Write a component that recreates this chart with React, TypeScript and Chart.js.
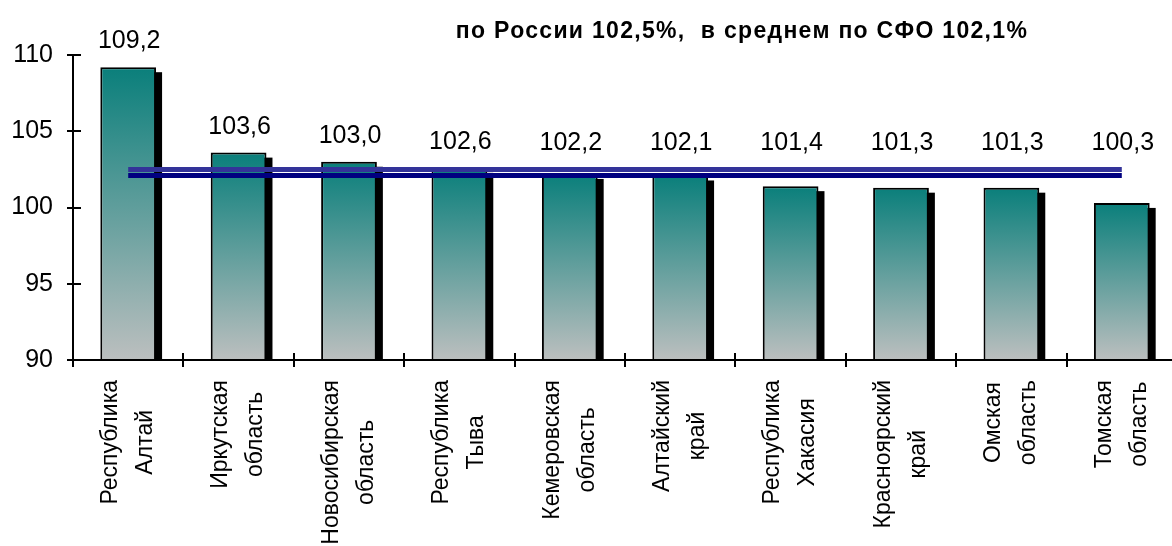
import React, { useEffect, useRef } from 'react';
import { Chart, registerables } from 'chart.js';

Chart.register(...registerables);

const categories: string[][] = [
  ['Республика', 'Алтай'],
  ['Иркутская', 'область'],
  ['Новосибирская', 'область'],
  ['Республика', 'Тыва'],
  ['Кемеровская', 'область'],
  ['Алтайский', 'край'],
  ['Республика', 'Хакасия'],
  ['Красноярский', 'край'],
  ['Омская', 'область'],
  ['Томская', 'область'],
];
const values = [109.2, 103.6, 103.0, 102.6, 102.2, 102.1, 101.4, 101.3, 101.3, 100.3];
const russiaLevel = [102.5, 102.5, 102.5, 102.5, 102.5, 102.5, 102.5, 102.5, 102.5, 102.5];
const sfoLevel = [102.1, 102.1, 102.1, 102.1, 102.1, 102.1, 102.1, 102.1, 102.1, 102.1];
const yMin = 90;
const yMax = 110;
const yStep = 5;
const titleText = 'по России 102,5%,  в среднем по СФО 102,1%';

const FONT = "'Liberation Sans', Arial, sans-serif";
const TEAL = '#0a7f7b';
const GRAY = '#bcbfbf';
const BAR_DS = 2;

const fmt = (v: number) => v.toFixed(1).replace('.', ',');

const barFill = (ctx: any) => {
  if (ctx.type !== 'data') return TEAL;
  const chart = ctx.chart;
  const ys = chart.scales && chart.scales.y;
  if (!chart.chartArea || !ys) return TEAL;
  const top = ys.getPixelForValue(ctx.raw);
  const bottom = ys.getPixelForValue(ys.min);
  if (!isFinite(top) || !isFinite(bottom) || bottom <= top) return TEAL;
  const g = chart.ctx.createLinearGradient(0, top, 0, bottom);
  g.addColorStop(0, TEAL);
  g.addColorStop(1, GRAY);
  return g;
};

const shadowPlugin = {
  id: 'barShadow',
  beforeDatasetsDraw(chart: any) {
    const { ctx, chartArea } = chart;
    const meta = chart.getDatasetMeta(BAR_DS);
    ctx.save();
    ctx.beginPath();
    ctx.rect(chartArea.left, chartArea.top - 40, chartArea.right - chartArea.left + 20, chartArea.bottom - chartArea.top + 40);
    ctx.clip();
    ctx.fillStyle = '#000';
    meta.data.forEach((bar: any) => {
      const { x, y, base, width } = bar.getProps(['x', 'y', 'base', 'width'], true);
      ctx.fillRect(x - width / 2 + 6, y + 5, width, base - y - 5);
    });
    ctx.restore();
  },
};

const decorPlugin = {
  id: 'decor',
  afterDraw(chart: any) {
    const { ctx, chartArea } = chart;
    const xs = chart.scales.x;
    const ys = chart.scales.y;
    ctx.save();
    // inner halves of cross ticks
    ctx.strokeStyle = '#000';
    ctx.lineWidth = 2;
    ys.ticks.forEach((_t: any, i: number) => {
      const py = Math.round(ys.getPixelForTick(i));
      ctx.beginPath();
      ctx.moveTo(chartArea.left, py);
      ctx.lineTo(chartArea.left + 8, py);
      ctx.stroke();
    });
    const n = categories.length;
    const cw = (xs.right - xs.left) / n;
    for (let i = 0; i <= n; i++) {
      const px = Math.round(xs.getPixelForValue(Math.min(i, n - 1)) + (i < n ? -cw / 2 : cw / 2));
      ctx.beginPath();
      ctx.moveTo(px, chartArea.bottom);
      ctx.lineTo(px, chartArea.bottom - 7);
      ctx.stroke();
    }

    // value labels (kept above the average lines)
    ctx.fillStyle = '#000';
    ctx.font = `25px ${FONT}`;
    ctx.textAlign = 'center';
    ctx.textBaseline = 'alphabetic';
    const lineTop = ys.getPixelForValue(Math.max(russiaLevel[0], sfoLevel[0]));
    const meta = chart.getDatasetMeta(BAR_DS);
    meta.data.forEach((bar: any, i: number) => {
      const { x, y } = bar.getProps(['x', 'y'], true);
      const ly = Math.min(y, lineTop) - 19;
      ctx.fillText(fmt(values[i]), x + 1, ly);
    });

    // category labels (rotated, lines centered)
    ctx.font = `23px ${FONT}`;
    ctx.textBaseline = 'middle';
    ctx.textAlign = 'center';
    categories.forEach((lines, i) => {
      const cx = xs.getPixelForValue(i);
      const maxW = Math.max(...lines.map((l) => ctx.measureText(l).width));
      const cy = chartArea.bottom + 20 + maxW / 2;
      lines.forEach((line, j) => {
        const lx = cx + (j - (lines.length - 1) / 2) * 35;
        ctx.save();
        ctx.translate(lx, cy);
        ctx.rotate(-Math.PI / 2);
        ctx.fillText(line, 0, 0);
        ctx.restore();
      });
    });

    // title
    ctx.font = `bold 23px ${FONT}`;
    (ctx as any).letterSpacing = '1.3px';
    ctx.textAlign = 'center';
    ctx.textBaseline = 'alphabetic';
    ctx.fillText(titleText, 742, 38);
    (ctx as any).letterSpacing = '0px';
    ctx.restore();
  },
};

export default function App() {
  const ref = useRef<HTMLCanvasElement | null>(null);
  useEffect(() => {
    if (!ref.current) return;
    const chart = new Chart(ref.current, {
      type: 'bar',
      data: {
        labels: categories.map((c) => c.join(' ')),
        datasets: [
          {
            type: 'line',
            label: 'Россия',
            data: russiaLevel,
            borderColor: '#333399',
            borderWidth: 5,
            pointRadius: 0,
            fill: false,
            tension: 0,
            order: 0,
          } as any,
          {
            type: 'line',
            label: 'СФО',
            data: sfoLevel,
            borderColor: '#000080',
            borderWidth: 5,
            pointRadius: 0,
            fill: false,
            tension: 0,
            order: 1,
          } as any,
          {
            type: 'bar',
            label: 'Индекс',
            data: values,
            backgroundColor: barFill,
            borderColor: '#000',
            borderWidth: 2,
            borderSkipped: 'bottom',
            categoryPercentage: 1,
            barPercentage: 0.505,
            order: 5,
          } as any,
        ],
      },
      options: {
        animation: false,
        responsive: false,
        devicePixelRatio: 1,
        layout: { padding: { top: 55, right: 13, left: 0, bottom: 0 } },
        plugins: {
          legend: { display: false },
          tooltip: { enabled: false },
          title: { display: false },
        },
        scales: {
          x: {
            offset: true,
            afterFit: (s: any) => {
              s.height = 186;
            },
            grid: {
              offset: true,
              drawOnChartArea: false,
              drawTicks: true,
              tickLength: 7,
              color: '#000',
              lineWidth: 2,
            },
            border: { display: true, color: '#000', width: 2, z: 1 },
            ticks: { display: false },
          },
          y: {
            min: yMin,
            max: yMax,
            afterFit: (s: any) => {
              s.width = 73;
            },
            grid: {
              drawOnChartArea: false,
              drawTicks: true,
              tickLength: 6,
              color: '#000',
              lineWidth: 2,
            },
            border: { display: true, color: '#000', width: 2, z: 1 },
            ticks: {
              stepSize: yStep,
              padding: 14,
              color: '#000',
              font: { family: FONT, size: 25 },
              callback: (v: any) => String(v),
            },
          },
        },
      } as any,
      plugins: [shadowPlugin, decorPlugin],
    });
    return () => chart.destroy();
  }, []);
  return (
    <div
      style={{
        position: 'fixed',
        left: 0,
        top: 0,
        width: 1172,
        height: 546,
        overflow: 'hidden',
        background: '#fff',
      }}
    >
      <canvas ref={ref} width={1190} height={546} style={{ display: 'block' }} />
    </div>
  );
}
